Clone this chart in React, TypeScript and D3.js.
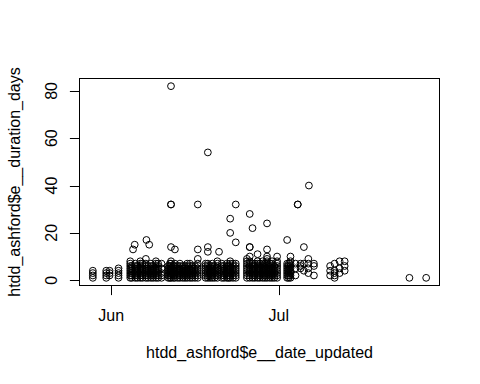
import React from "react";
import * as d3 from "d3";

// Day offsets relative to 1 June (fractional, datetimes) for each column of points
const columnDays: number[] = [
  -3.3, -0.9, -0.3, 1.3,
  3.4, 3.7, 3.9, 4.2, 4.3, 4.7, 5.2, 5.6, 6.2, 6.3, 6.6, 6.8, 7.1, 7.5, 8.0, 8.4, 9.0,
  10.2, 10.5, 10.7, 11.1, 11.4, 11.9, 12.3, 12.8, 13.2, 13.6, 14.1, 14.5, 15.0, 15.5,
  16.9, 17.3, 17.7, 18.1, 18.5, 19.0, 19.3, 19.8, 20.2, 20.7, 21.0, 21.3, 21.8, 22.3,
  24.3, 24.8, 25.3, 25.7, 26.2, 26.6, 27.1, 27.5, 27.9, 28.4, 28.8, 29.2, 29.7,
  31.5, 31.8, 32.1, 33.0, 33.4, 33.9, 34.5, 35.3, 35.4, 36.3,
  39.2, 40.0, 40.9, 41.8,
  53.4, 56.4,
];

// Duration values (days) at each column
const columnDurations: number[][] = [
  [1, 2, 3, 4], [1, 2, 3, 4], [2, 3, 4], [1, 2, 3, 4, 5],
  [1, 2, 3, 4, 5, 6, 7, 8], [1, 2, 3, 4, 5, 6], [13], [15], [1, 2, 3, 4, 5, 6, 7], [1, 2, 3, 4, 5, 6],
  [1, 2, 3, 4, 5, 6, 7, 8], [1, 2, 3, 4, 5, 6, 7],
  [1, 2, 3, 4, 5, 6, 7, 9], [17], [1, 2, 3, 4, 5, 6], [15], [1, 2, 3, 4, 5, 6, 7], [1, 2, 3, 4, 5, 6],
  [1, 2, 3, 4, 5, 6, 7, 8], [1, 2, 3, 4, 5, 6, 7], [1, 2, 3, 5, 7],
  [1, 2, 3, 4, 5, 6], [1, 2, 3, 4, 5, 6, 7], [1, 2, 3, 4, 5, 6, 7, 8, 14, 32, 32, 82], [1, 2, 3, 4, 5, 6],
  [1, 2, 3, 4, 5, 6, 7, 13], [1, 2, 3, 4, 5, 6],
  [1, 2, 3, 4, 5, 6, 7], [1, 2, 3, 4, 5, 6], [1, 2, 3, 4, 5, 6], [1, 2, 3, 4, 5, 6, 7],
  [1, 2, 3, 4, 5, 6, 7], [1, 2, 3, 4, 5, 6], [1, 2, 3, 4, 5, 6],
  [1, 2, 3, 4, 5, 6, 7, 9, 13, 32],
  [1, 2, 3, 4, 5, 6, 7], [1, 2, 3, 4, 5, 6, 7, 12, 14, 54], [1, 2, 3, 4, 5, 6], [1, 2, 3, 4, 5, 6, 7],
  [1, 2, 3, 4, 5, 6], [1, 2, 3, 4, 5, 6, 7, 8], [12], [1, 2, 3, 4, 5, 6, 7], [1, 2, 3, 4, 5, 6],
  [1, 2, 3, 4, 5, 6, 7], [1, 2, 3, 4, 5, 6], [1, 2, 3, 4, 5, 6, 7, 8, 20, 26], [1, 2, 3, 4, 5, 6, 7],
  [1, 2, 3, 4, 5, 6, 7, 16, 32],
  [1, 2, 3, 4, 5, 6, 7, 8, 9], [1, 2, 3, 4, 5, 6, 7, 8, 10, 14, 14, 28], [1, 2, 3, 4, 5, 6, 7, 22],
  [1, 2, 3, 4, 5, 6, 7], [1, 2, 3, 4, 5, 6, 7, 8, 11], [1, 2, 3, 4, 5, 6, 7], [1, 2, 3, 4, 5, 6, 7, 8],
  [1, 2, 3, 4, 5, 6, 7], [1, 2, 3, 4, 5, 6, 7, 8, 9, 10, 13, 24], [1, 2, 3, 4, 5, 6, 7],
  [1, 2, 3, 4, 5, 6, 7, 8], [1, 2, 3, 4, 5, 6], [1, 2, 3, 4, 5, 6, 7, 8, 10],
  [1, 2, 3, 4, 5, 6, 7, 17], [1, 2, 3, 4, 5, 6, 7], [1, 2, 3, 4, 5, 6, 7, 8, 10], [2, 5, 7], [32, 32],
  [5, 6, 7], [4, 7, 14], [3, 5, 7, 9], [40], [2, 6, 7],
  [2, 4, 6], [1, 2, 3, 4, 7], [3, 5, 8], [4, 6, 8],
  [1], [1],
];

const xTickDays: number[] = [0, 30];
const xTickLabels: string[] = ["Jun", "Jul"];
const yTicks: number[] = [0, 20, 40, 60, 80];

const xTitle = "htdd_ashford$e__date_updated";
const yTitle = "htdd_ashford$e__duration_days";

type Pt = { d: number; v: number };
const points: Pt[] = columnDays.flatMap((d, i) => columnDurations[i].map((v) => ({ d, v })));

export default function App() {
  const W = 480, H = 384;
  const left = 79.5, right = 439.5, top = 78.5, bottom = 285.5;

  const xExt = d3.extent(points, (p) => p.d) as [number, number];
  const yExt = d3.extent(points, (p) => p.v) as [number, number];
  const xPad = (xExt[1] - xExt[0]) * 0.04;
  const yPad = (yExt[1] - yExt[0]) * 0.04;
  const x = d3.scaleLinear().domain([xExt[0] - xPad, xExt[1] + xPad]).range([left, right]);
  const y = d3.scaleLinear().domain([yExt[0] - yPad, yExt[1] + yPad]).range([bottom, top]);

  const font = "'Liberation Sans', Arial, Helvetica, sans-serif";
  const tick = 9.6;

  return (
    <svg width={W} height={H} style={{ position: "absolute", left: 0, top: 0, background: "#fff" }}
      fontFamily={font}>
      <rect x={0} y={0} width={W} height={H} fill="#fff" />
      {points.map((p, i) => (
        <circle key={i} cx={x(p.d)} cy={y(p.v)} r={3.4} fill="none" stroke="#000" strokeWidth={1} />
      ))}
      <rect x={left} y={top} width={right - left} height={bottom - top} fill="none" stroke="#000" strokeWidth={1} />
      {/* x axis */}
      <line x1={x(xTickDays[0])} x2={x(xTickDays[xTickDays.length - 1])} y1={bottom} y2={bottom} stroke="#000" />
      {xTickDays.map((t, i) => (
        <g key={i}>
          <line x1={Math.round(x(t)) + 0.5} x2={Math.round(x(t)) + 0.5} y1={bottom} y2={bottom + tick} stroke="#000" />
          <text x={x(t)} y={321} fontSize={16} textAnchor="middle" fill="#000">{xTickLabels[i]}</text>
        </g>
      ))}
      {/* y axis */}
      <line x1={left} x2={left} y1={y(yTicks[0])} y2={y(yTicks[yTicks.length - 1])} stroke="#000" />
      {yTicks.map((t, i) => (
        <g key={i}>
          <line x1={left - tick} x2={left} y1={Math.round(y(t)) + 0.5} y2={Math.round(y(t)) + 0.5} stroke="#000" />
          <text transform={`translate(57,${y(t)}) rotate(-90)`} fontSize={16} textAnchor="middle" fill="#000">{t}</text>
        </g>
      ))}
      <text x={(left + right) / 2} y={358} fontSize={16} textAnchor="middle" fill="#000">{xTitle}</text>
      <text transform={`translate(20,${(top + bottom) / 2}) rotate(-90)`} fontSize={16} textAnchor="middle" fill="#000">{yTitle}</text>
    </svg>
  );
}
